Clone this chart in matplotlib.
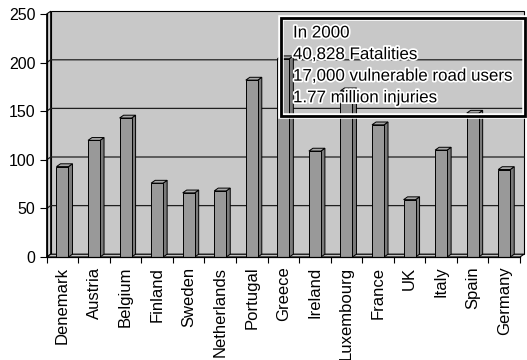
import matplotlib.pyplot as plt
from matplotlib.patches import Rectangle, Polygon
import matplotlib.patheffects as pe

plt.rcParams['font.family'] = ['Liberation Sans', 'DejaVu Sans']

countries = ['Denemark', 'Austria', 'Belgium', 'Finland', 'Sweden', 'Netherlands',
             'Portugal', 'Greece', 'Ireland', 'Luxembourg', 'France', 'UK',
             'Italy', 'Spain', 'Germany']
values = [93, 120, 143, 76, 66, 68, 182, 204, 109, 171, 136, 59, 110, 148, 90]
yticks = [0, 50, 100, 150, 200, 250]
notes = ['In 2000', '40,828 Fatalities', '17,000 vulnerable road users',
         '1.77 million injuries']

W, H = 527, 360
fig = plt.figure(figsize=(W / 100, H / 100), dpi=100)
# axes: x=0 at 46.7px, x=15 at 520px; y=0 at 257px, y=250 at 14px
ax = fig.add_axes([46.7 / W, (H - 257) / H, (520 - 46.7) / W, 243 / H])
n = len(countries)
ax.set_xlim(0, n)
ax.set_ylim(0, 250)

# 3D depth offset in data units (~4px right, ~2.8px up)
dx = 4 / 31.55
dy = 2.8 / 0.972

wall = '#c8c8c8'
ax.add_patch(Rectangle((dx, dy), n, 250, facecolor=wall, edgecolor='black',
                       lw=0.8, clip_on=False, zorder=0))
ax.add_patch(Polygon([(0, 0), (dx, dy), (dx, 250 + dy), (0, 250)],
                     facecolor='#d4d4d4', edgecolor='black', lw=0.8,
                     clip_on=False, zorder=0))
ax.add_patch(Polygon([(0, 0), (n, 0), (n + dx, dy), (dx, dy)],
                     facecolor='#c0c0c0', edgecolor='black', lw=0.8,
                     clip_on=False, zorder=0))

for v in yticks[1:-1]:
    ax.plot([0, dx, n + dx], [v, v + dy, v + dy], color='#202020', lw=0.9,
            clip_on=False, zorder=1)

bw = 0.38
for i, v in enumerate(values):
    x0 = i + 0.5 - bw / 2
    x1 = x0 + bw
    ax.add_patch(Polygon([(x1, 0), (x1 + dx, dy), (x1 + dx, v + dy), (x1, v)],
                         facecolor='#7a7a7a', edgecolor='black', lw=0.7,
                         clip_on=False, zorder=2))
    ax.add_patch(Polygon([(x0, v), (x1, v), (x1 + dx, v + dy), (x0 + dx, v + dy)],
                         facecolor='#a8a8a8', edgecolor='black', lw=0.7,
                         clip_on=False, zorder=2))
    ax.add_patch(Rectangle((x0, 0), bw, v, facecolor='#999999',
                           edgecolor='black', lw=0.7, clip_on=False, zorder=3))

ax.patch.set_visible(False)
for s in ['top', 'right']:
    ax.spines[s].set_visible(False)
ax.spines['left'].set_linewidth(0.9)
ax.spines['bottom'].set_linewidth(0.9)
ax.spines['left'].set_zorder(4)
ax.spines['bottom'].set_zorder(4)

ax.set_yticks(yticks)
ax.tick_params(axis='y', direction='out', length=5, width=0.8, pad=3,
               labelsize=11.5)
ax.set_xticks(range(n + 1), minor=True)
ax.set_xticks([i + 0.5 for i in range(n)])
ax.set_xticklabels(countries, rotation=90, fontsize=12)
ax.tick_params(axis='x', which='major', length=0, pad=7)
ax.tick_params(axis='x', which='minor', direction='out', length=4, width=0.8)

# note box
bx0, bx1, by0, by1 = 280.5, 524.5, 17.5, 115.5
box = [bx0 / W, 1 - by1 / H]
fig.add_artist(Rectangle(box, (bx1 - bx0) / W, (by1 - by0) / H,
                         transform=fig.transFigure, fill=False,
                         edgecolor='white', lw=4, zorder=5))
fig.add_artist(Rectangle(box, (bx1 - bx0) / W, (by1 - by0) / H,
                         transform=fig.transFigure, fill=False,
                         edgecolor='black', lw=2, zorder=6))
for k, t in enumerate(notes):
    fig.text(293 / W, 1 - (33 + 21.6 * k) / H, t, fontsize=12.2, va='center',
             ha='left', zorder=7,
             path_effects=[pe.withStroke(linewidth=2.5, foreground='white')])

fig.savefig('out.png', dpi=100)
